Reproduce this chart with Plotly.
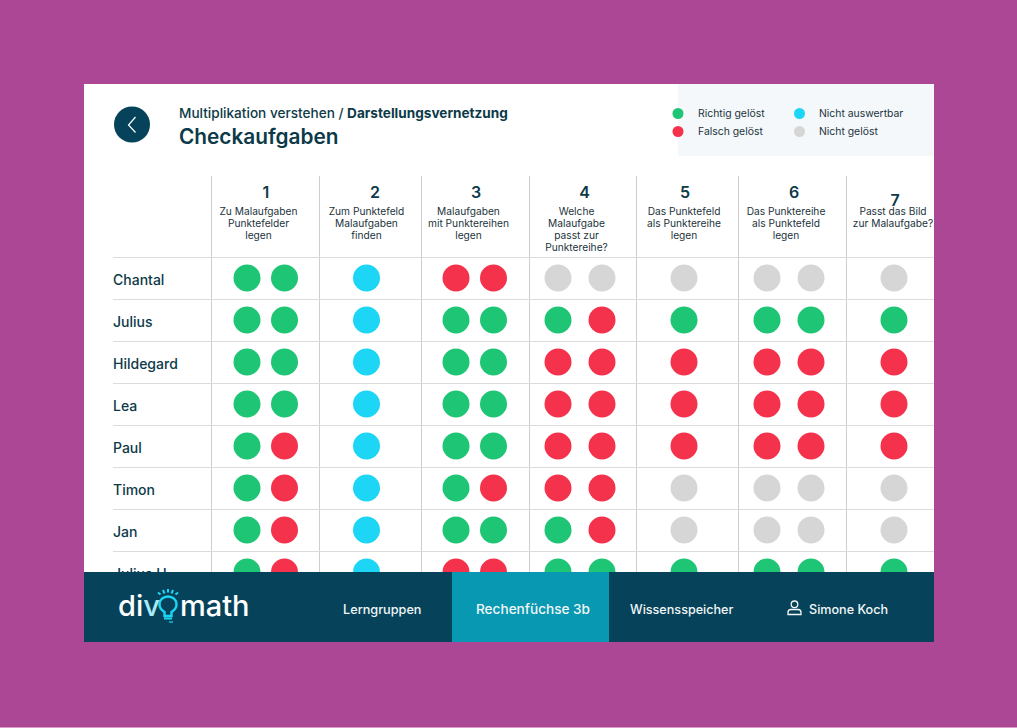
import plotly.graph_objects as go

# table content
students = ["Chantal", "Julius", "Hildegard", "Lea", "Paul", "Timon", "Jan", "Julius H."]
task_numbers = ["1", "2", "3", "4", "5", "6", "7"]
task_titles = [
    ["Zu Malaufgaben", "Punktefelder", "legen"],
    ["Zum Punktefeld", "Malaufgaben", "finden"],
    ["Malaufgaben", "mit Punktereihen", "legen"],
    ["Welche", "Malaufgabe", "passt zur", "Punktereihe?"],
    ["Das Punktefeld", "als Punktereihe", "legen"],
    ["Das Punktereihe", "als Punktefeld", "legen"],
    ["Passt das Bild", "zur Malaufgabe?"],
]
# r = richtig, f = falsch, a = nicht auswertbar, n = nicht geloest
results = [
    ["rr", "a", "ff", "nn", "n", "nn", "n"],
    ["rr", "a", "rr", "rf", "r", "rr", "r"],
    ["rr", "a", "rr", "ff", "f", "ff", "f"],
    ["rr", "a", "rr", "ff", "f", "ff", "f"],
    ["rf", "a", "rr", "ff", "f", "ff", "f"],
    ["rf", "a", "rf", "ff", "n", "nn", "n"],
    ["rf", "a", "rr", "rf", "n", "nn", "n"],
    ["rf", "a", "ff", "rr", "r", "rr", "r"],
]
legend_labels = {"r": "Richtig gelöst", "f": "Falsch gelöst", "a": "Nicht auswertbar", "n": "Nicht gelöst"}
nav_items = ["Lerngruppen", "Rechenfüchse 3b", "Wissensspeicher", "Simone Koch"]

# colours
PURPLE = "#ab4795"
DARK = "#06435a"
TEAL = "#0898b1"
INK = "#0c3a48"
CYAN = "#1dd5f4"
colors = {"r": "#1ec574", "f": "#f4324c", "a": CYAN, "n": "#d6d6d6"}

# layout in page pixels
col_edges = [211.5, 319.5, 421.5, 529.5, 636.5, 738.5, 846.5]
dot_x = [(247, 284.5), (366.5,), (456, 493.5), (558, 602), (684,), (767, 811), (894,)]
title_x = [258.5, 366.5, 468.5, 576.5, 684, 786, 893]
number_x = [266, 375, 476, 584.5, 685, 794, 895]
number_y = [194, 194, 194, 194, 194, 194, 202]
row_top = 257.5
row_h = 42
FONT = "Inter"

fig = go.Figure()

shapes = []
# grid below the marks
for x in col_edges:
    shapes.append(dict(type="line", x0=x, x1=x, y0=176, y1=642, line=dict(color="#cdcdcd", width=1), layer="below"))
for i in range(len(students) + 1):
    y = row_top + i * row_h
    shapes.append(dict(type="line", x0=113, x1=934, y0=y, y1=y, line=dict(color="#dcdcdc", width=1), layer="below"))

# one trace per status
for key in colors:
    xs, ys = [], []
    for i, row in enumerate(results):
        for j, cell in enumerate(row):
            for k, status in enumerate(cell):
                if status == key:
                    xs.append(dot_x[j][k])
                    ys.append(row_top + (i + 0.5) * row_h - 0.5)
    fig.add_trace(go.Scatter(x=xs, y=ys, mode="markers", showlegend=False, name=legend_labels[key],
                             marker=dict(color=colors[key], size=27, line=dict(width=0))))

# texts as traces so the footer and the card edge cut them off
fig.add_trace(go.Scatter(x=[113] * len(students), y=[row_top + (i + 0.5) * row_h + 3 for i in range(len(students))],
                         text=students, mode="text", textposition="middle right", showlegend=False,
                         textfont=dict(family=FONT, size=14, color=INK, weight=500)))
fig.add_trace(go.Scatter(x=number_x, y=number_y, text=task_numbers, mode="text", showlegend=False,
                         textfont=dict(family=FONT, size=16, color=INK, weight=600)))
# header lines one by one, the line gap is tighter than plotly's <br>
line_x, line_y, line_text = [], [], []
for x, lines in zip(title_x, task_titles):
    for n, line in enumerate(lines):
        line_x.append(x)
        line_y.append(212 + n * 12)
        line_text.append(line)
fig.add_trace(go.Scatter(x=line_x, y=line_y, text=line_text, mode="text", showlegend=False,
                         textfont=dict(family=FONT, size=10.2, color="#22333b")))

# legend panel
shapes.append(dict(type="rect", x0=678, x1=934, y0=84, y1=156, fillcolor="#f4f8fb", line_width=0, layer="below"))
legend_pos = {"r": (678, 113.5), "f": (678, 131.5), "a": (799.5, 113.5), "n": (799.5, 131.5)}
fig.add_trace(go.Scatter(x=[legend_pos[k][0] for k in colors], y=[legend_pos[k][1] for k in colors], mode="markers",
                         showlegend=False, hoverinfo="skip",
                         marker=dict(color=list(colors.values()), size=11, line=dict(width=0))))
annotations = []
def label(x, y, text, size, color=INK, weight=400, anchor="left", family=FONT):
    annotations.append(dict(x=x, y=y, text=text, showarrow=False, xanchor=anchor, yanchor="middle",
                            font=dict(family=family, size=size, color=color, weight=weight), xref="x", yref="y"))

for k in colors:
    label(legend_pos[k][0] + 17.5, legend_pos[k][1], legend_labels[k], 10.4, "#22333b")

# header
shapes.append(dict(type="circle", x0=114, x1=150, y0=106.5, y1=142.5, fillcolor=DARK, line_width=0))
shapes.append(dict(type="path", path="M 135.5 117 L 128.5 125 L 135.5 132.5", line=dict(color="white", width=1.2)))
label(177, 113, "Multiplikation verstehen / <b>Darstellungsvernetzung</b>", 13.6, INK, 500)
label(177, 136.5, "Checkaufgaben", 20.8, INK, 600)

# footer
shapes.append(dict(type="rect", x0=84, x1=934, y0=572, y1=642, fillcolor=DARK, line_width=0))
shapes.append(dict(type="rect", x0=452, x1=609, y0=572, y1=642, fillcolor=TEAL, line_width=0))
NAV = "#f2f6f7"
label(382.5, 609, nav_items[0], 12.7, NAV, 500, "center")
label(532.5, 609, nav_items[1], 13.6, NAV, 500, "center")
label(681.5, 609, nav_items[2], 12.6, NAV, 500, "center")
label(807, 609, nav_items[3], 12.6, NAV, 500)

# user icon
shapes.append(dict(type="circle", x0=791.2, x1=797.8, y0=601, y1=607.6, line=dict(color=NAV, width=1.3)))
shapes.append(dict(type="path", path="M 788 614.5 L 788 612.5 Q 788 609.5 791 609.5 L 798 609.5 Q 801 609.5 801 612.5 L 801 614.5 Z",
                   line=dict(color=NAV, width=1.3)))

# logo: word marks and the bulb in place of the o
label(115.5, 605, 'di<span style="color:#a8ebf7">v</span>', 29, "white", 500)
label(178, 605, "math", 29, "white", 500)
bulb = dict(color=CYAN, width=2.4)
shapes.append(dict(type="path", path="M 164.5 616 L 164.5 612 C 161 610 159.5 607.5 159.5 604.5 C 159.5 599.8 163.3 596.5 168 596.5 "
                                      "C 172.7 596.5 176.5 599.8 176.5 604.5 C 176.5 607.5 175 610 171.5 612 L 171.5 616 Z", line=bulb))
shapes.append(dict(type="line", x0=164, x1=172, y0=618.5, y1=618.5, line=dict(color=CYAN, width=2)))
shapes.append(dict(type="line", x0=169, x1=173, y0=622, y1=622, line=dict(color=CYAN, width=1.2)))
rays = [(158, 592.5, 160.5, 594.5), (163, 590, 164.5, 593.5), (168, 589, 168, 592.5), (173, 590, 171.5, 593.5), (178, 592.5, 175.5, 594.5)]
for x0, y0, x1, y1 in rays:
    shapes.append(dict(type="line", x0=x0, x1=x1, y0=y0, y1=y1, line=dict(color=CYAN, width=2)))

# pale pixel row at the very bottom of the page
shapes.append(dict(type="rect", xref="paper", yref="paper", x0=-84 / 850, x1=933 / 850, y0=-86 / 558, y1=-85 / 558,
                   fillcolor="#dd9acb", line_width=0))

fig.update_layout(
    width=1017, height=728, margin=dict(l=84, r=83, t=84, b=86),
    paper_bgcolor=PURPLE, plot_bgcolor="white", shapes=shapes, annotations=annotations,
    xaxis=dict(range=[84, 934], visible=False, fixedrange=True),
    yaxis=dict(range=[642, 84], visible=False, fixedrange=True),
)
fig.write_html("out.html", config=dict(displayModeBar=False), post_script="document.body.style.margin='0';document.body.style.overflow='hidden';")
